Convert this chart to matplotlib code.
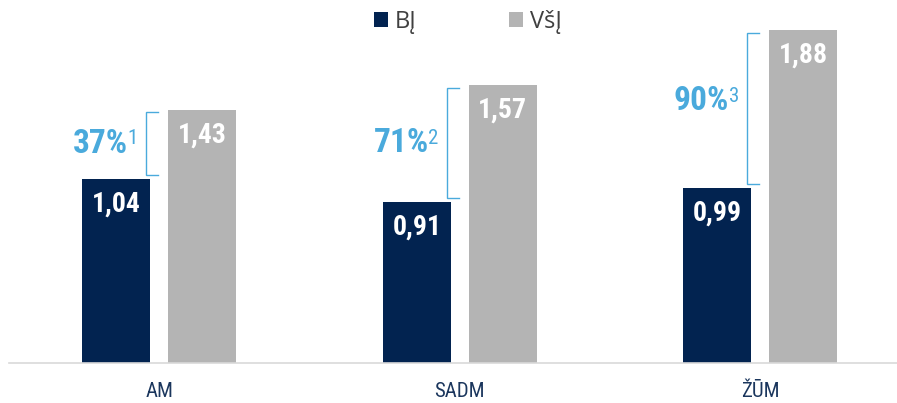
import matplotlib.pyplot as plt
import numpy as np

# data
categories = ["AM", "SADM", "ŽŪM"]
bj_values = [1.04, 0.91, 0.99]
vsj_values = [1.43, 1.57, 1.88]
diff_labels = ["37%", "71%", "90%"]
diff_notes = ["1", "2", "3"]
series_names = ["BĮ", "VšĮ"]

navy = "#022350"
grey = "#b4b4b4"
blue = "#4aaadc"
cond = ["Roboto Condensed", "Liberation Sans Narrow", "DejaVu Sans"]

fig = plt.figure(figsize=(8.97, 4.03), dpi=100)
ax = fig.add_axes([9 / 897, 40 / 403, 888 / 897, 363 / 403])

x = np.arange(len(categories))
w = 0.226
off = 0.143
b1 = ax.bar(x - off, bj_values, w, color=navy, label=series_names[0])
b2 = ax.bar(x + off, vsj_values, w, color=grey, label=series_names[1])

ax.set_xlim(-0.5, 2.455)
ax.set_ylim(0, 2.05)

# value labels inside bars
for bars, vals in [(b1, bj_values), (b2, vsj_values)]:
    for r, v in zip(bars, vals):
        ax.annotate(f"{v:.2f}".replace(".", ","), (r.get_x() + r.get_width() / 2, v),
                    xytext=(0, -18), textcoords="offset points", ha="center", va="center",
                    color="white", fontsize=20, fontweight="bold", family=cond)

# brackets + percent differences
for i, (lo, hi) in enumerate(zip(bj_values, vsj_values)):
    bx = i - 0.043
    tx = i - 0.003
    y0, y1 = lo + 0.02, hi - 0.015
    ax.plot([tx, bx, bx, tx], [y0, y0, y1, y1], color=blue, lw=1.0, solid_joinstyle="miter")
    ym = (y0 + y1) / 2 + (0.04 if i == 2 else 0)
    t = ax.text(bx - 0.06, ym, diff_labels[i], ha="right", va="center", color=blue,
                fontsize=24, fontweight="bold", family=cond)
    ax.annotate(diff_notes[i], xy=(1.0, 0.95), xycoords=t, xytext=(-0.5, 0),
                textcoords="offset points", ha="left", va="top",
                color=blue, fontsize=15, family=cond)

# axes styling
for s in ["top", "right", "left"]:
    ax.spines[s].set_visible(False)
ax.spines["bottom"].set_color("#d9d9d9")
ax.spines["bottom"].set_linewidth(1.2)
ax.set_yticks([])
ax.set_xticks(x)
ax.set_xticklabels(categories, fontsize=15, color="#1b365d", family=cond)
ax.tick_params(axis="x", length=0, pad=14)

fig.legend(handles=[b1, b2], loc="center", bbox_to_anchor=(468 / 897, 1 - 22 / 403),
           ncol=2, frameon=False, handlelength=0.6, handleheight=0.6, handletextpad=0.3,
           columnspacing=3.9, prop={"family": ["Open Sans", "DejaVu Sans"], "size": 17},
           labelcolor="#404040")

fig.savefig("out.png", dpi=100)
